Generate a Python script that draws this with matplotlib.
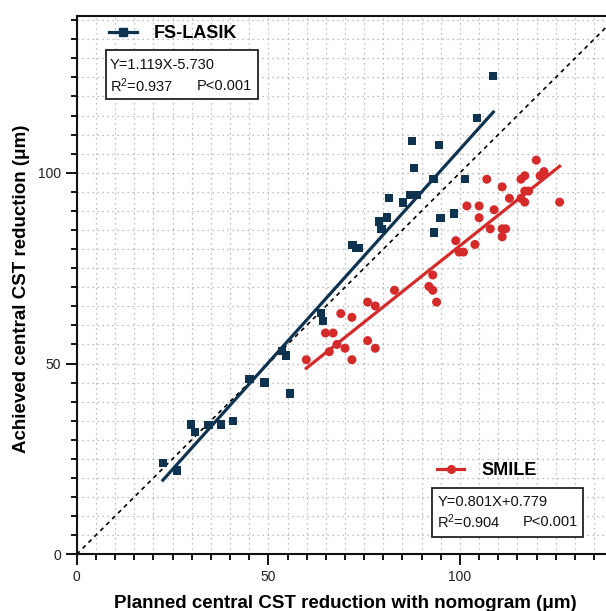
import matplotlib
matplotlib.use("Agg")
import matplotlib.pyplot as plt
from matplotlib.lines import Line2D
from matplotlib.patches import Rectangle
from matplotlib.ticker import MultipleLocator
import numpy as np

plt.rcParams['font.family'] = ['Liberation Sans', 'DejaVu Sans']
plt.rcParams['mathtext.fontset'] = 'custom'
plt.rcParams['mathtext.rm'] = 'Liberation Sans'
plt.rcParams['mathtext.it'] = 'Liberation Sans:italic'
plt.rcParams['mathtext.bf'] = 'Liberation Sans:bold'

# ---- data ----
fs_x = [22.5, 26.2, 29.8, 30.9, 34.4, 37.6, 40.7, 45.1, 49.0, 53.5, 54.6, 55.7,
        63.8, 64.3, 72.0, 72.8, 73.6, 78.9, 79.5, 80.9, 81.5, 85.2, 87.1, 88.8,
        88.0, 87.5, 93.1, 93.3, 94.6, 94.9, 98.4, 101.3, 104.4, 108.7]
fs_y = [23.9, 22.0, 34.0, 32.0, 33.9, 34.0, 35.0, 46.0, 45.0, 53.2, 52.1, 42.1,
        63.3, 61.2, 81.0, 80.3, 80.3, 87.2, 85.3, 88.3, 93.4, 92.2, 94.2, 94.2,
        101.3, 108.4, 98.4, 84.3, 107.3, 88.2, 89.3, 98.4, 114.3, 125.3]

sm_x = [59.9, 64.9, 65.9, 66.9, 67.9, 68.9, 70.0, 71.8, 71.8, 75.9, 75.9, 77.9,
        77.9, 82.9, 91.9, 92.9, 92.9, 93.9, 98.9, 99.8, 100.9, 101.8, 103.9, 105.0,
        105.0, 107.0, 107.9, 108.9, 111.0, 111.0, 111.9, 111.0, 112.9, 115.9, 115.9,
        116.9, 116.9, 116.9, 117.9, 119.9, 120.9, 121.9, 126.0]
sm_y = [51.0, 58.0, 53.1, 58.0, 55.0, 63.1, 54.0, 62.1, 51.0, 66.1, 56.0, 65.1,
        54.0, 69.2, 70.2, 73.2, 69.2, 66.1, 82.2, 79.2, 79.2, 91.3, 81.2, 91.3,
        88.2, 98.3, 85.3, 90.3, 96.3, 85.3, 85.3, 83.2, 93.3, 98.3, 93.3,
        99.2, 95.2, 92.3, 95.2, 103.3, 99.2, 100.3, 92.3]

fs_slope, fs_intercept = 1.119, -5.730
sm_slope, sm_intercept = 0.801, 0.779

fs_label = "FS-LASIK"
sm_label = "SMILE"
fs_eq = "Y=1.119X-5.730"
fs_r2 = r"R$^{2}$=0.937"
sm_eq = "Y=0.801X+0.779"
sm_r2 = r"R$^{2}$=0.904"
p_text = "P<0.001"

xlabel = "Planned central CST reduction with nomogram (\u03bcm)"
ylabel = "Achieved central CST reduction (\u03bcm)"

navy = "#0e3350"
red = "#d42a2a"

# ---- figure ----
W, H = 606, 611
fig = plt.figure(figsize=(W / 100, H / 100), dpi=100)
ax = fig.add_axes([76.7 / W, (H - 554.3) / H, 536.6 / W, 538.0 / H])
ax.set_xlim(0, 140)
ax.set_ylim(0, 141)

# grid
ax.xaxis.set_major_locator(MultipleLocator(50))
ax.yaxis.set_major_locator(MultipleLocator(50))
ax.xaxis.set_minor_locator(MultipleLocator(5))
ax.yaxis.set_minor_locator(MultipleLocator(5))
ax.grid(which='both', linestyle=(0, (1, 3)), color='#a8a8a8', linewidth=0.9)
ax.set_axisbelow(True)

# identity line
ax.plot([0, 141], [0, 141], linestyle=(0, (2.5, 2.5)), color='black', linewidth=1.2, zorder=2)

# regression lines
fx = np.array([min(fs_x), max(fs_x)])
ax.plot(fx, fs_slope * fx + fs_intercept, color=navy, linewidth=2.3, zorder=3)
sx = np.array([min(sm_x), max(sm_x)])
ax.plot(sx, sm_slope * sx + sm_intercept, color=red, linewidth=2.3, zorder=3)

# scatter
ax.scatter(fs_x, fs_y, marker='s', s=36, color=navy, edgecolors='none', zorder=4)
ax.scatter(sm_x, sm_y, marker='o', s=42, color=red, edgecolors='none', zorder=4)

# spines & ticks
for side in ['left', 'bottom', 'top']:
    ax.spines[side].set_linewidth(1.5)
    ax.spines[side].set_color('#111111')
ax.spines['right'].set_visible(False)
ax.tick_params(which='major', direction='out', length=8, width=1.3, labelsize=10,
               labelcolor='#222222', pad=3, top=False, right=False)
ax.tick_params(which='minor', direction='out', length=4.5, width=1.3, top=False, right=False)

ax.set_xlabel(xlabel, fontsize=13.5, fontweight='bold', va='center')
ax.set_ylabel(ylabel, fontsize=13.5, fontweight='bold', va='center')
ax.xaxis.set_label_coords(0.5, (554.3 - 603) / 538.0)
ax.yaxis.set_label_coords((21.7 - 76.7) / 536.6, 0.493)

# legends
h_fs = Line2D([], [], color=navy, linewidth=2.3, marker='s', markersize=5.5)
h_sm = Line2D([], [], color=red, linewidth=2.3, marker='o', markersize=5.5)
leg1 = ax.legend([h_fs], [fs_label], loc='center left', bbox_to_anchor=(0.061, 0.968),
                 frameon=False, borderpad=0, borderaxespad=0, handlelength=1.5,
                 handletextpad=0.95, prop={'weight': 'bold', 'size': 13})
ax.add_artist(leg1)
leg2 = ax.legend([h_sm], [sm_label], loc='center left', bbox_to_anchor=(0.672, 0.155),
                 frameon=False, borderpad=0, borderaxespad=0, handlelength=1.5,
                 handletextpad=0.95, prop={'weight': 'bold', 'size': 13})

# stat boxes
ax.add_patch(Rectangle((0.054, 0.8457), 0.3384 - 0.054, 0.9374 - 0.8457, transform=ax.transAxes,
                       facecolor='white', edgecolor='#222222', linewidth=1.3, zorder=5))
ax.add_patch(Rectangle((0.6616, 0.0327), 0.9441 - 0.6616, 0.1238 - 0.0327, transform=ax.transAxes,
                       facecolor='white', edgecolor='#222222', linewidth=1.3, zorder=5))
tk = dict(transform=ax.transAxes, fontsize=10.5, va='center', ha='left', zorder=6, color='#111111')
ax.text(0.0621, 0.9095, fs_eq, **tk)
ax.text(0.0621, 0.8704, fs_r2, **tk)
ax.text(0.2236, 0.8704, p_text, **tk)
ax.text(0.672, 0.0978, sm_eq, **tk)
ax.text(0.672, 0.0606, sm_r2, **tk)
ax.text(0.8312, 0.0606, p_text, **tk)

fig.savefig("out.png", dpi=100)
